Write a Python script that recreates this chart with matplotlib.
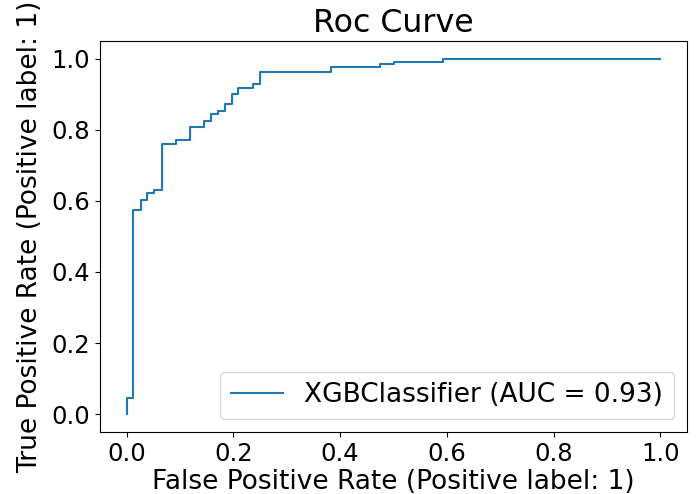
import matplotlib
matplotlib.use("Agg")
import matplotlib.pyplot as plt

# Pontos da curva ROC (FPR, TPR) do classificador XGB
fpr = [0.0, 0.0, 0.0123, 0.0123, 0.0267, 0.0267, 0.039, 0.039, 0.0515, 0.0515,
       0.066, 0.066, 0.093, 0.093, 0.119, 0.119, 0.144, 0.144, 0.158, 0.158,
       0.171, 0.171, 0.185, 0.185, 0.197, 0.197, 0.2095, 0.2095, 0.237, 0.237,
       0.2506, 0.2506, 0.382, 0.382, 0.474, 0.474, 0.5, 0.5, 0.593, 0.593, 1.0]
tpr = [0.0, 0.047, 0.047, 0.574, 0.574, 0.603, 0.603, 0.621, 0.621, 0.631,
       0.631, 0.759, 0.759, 0.771, 0.771, 0.808, 0.808, 0.825, 0.825, 0.844,
       0.844, 0.853, 0.853, 0.873, 0.873, 0.900, 0.900, 0.917, 0.917, 0.928,
       0.928, 0.963, 0.963, 0.975, 0.975, 0.984, 0.984, 0.991, 0.991, 1.0, 1.0]
auc = 0.93
modelo = "XGBClassifier"

plt.rcParams["font.size"] = 19
plt.rcParams["xtick.labelsize"] = 17.5
plt.rcParams["ytick.labelsize"] = 17.5

fig = plt.figure(figsize=(6.99, 4.94), dpi=100)
ax = fig.add_axes([0.143, 0.1255, 0.84, 0.792])
ax.plot(fpr, tpr, color="#1f77b4", linewidth=1.5,
        label=f"{modelo} (AUC = {auc:.2f})")
ax.set_xlabel("False Positive Rate (Positive label: 1)", labelpad=2)
ax.set_ylabel("True Positive Rate (Positive label: 1)", labelpad=6)
ax.set_title("Roc Curve")
ax.legend(loc="lower right")

fig.savefig("out.png", dpi=100)
